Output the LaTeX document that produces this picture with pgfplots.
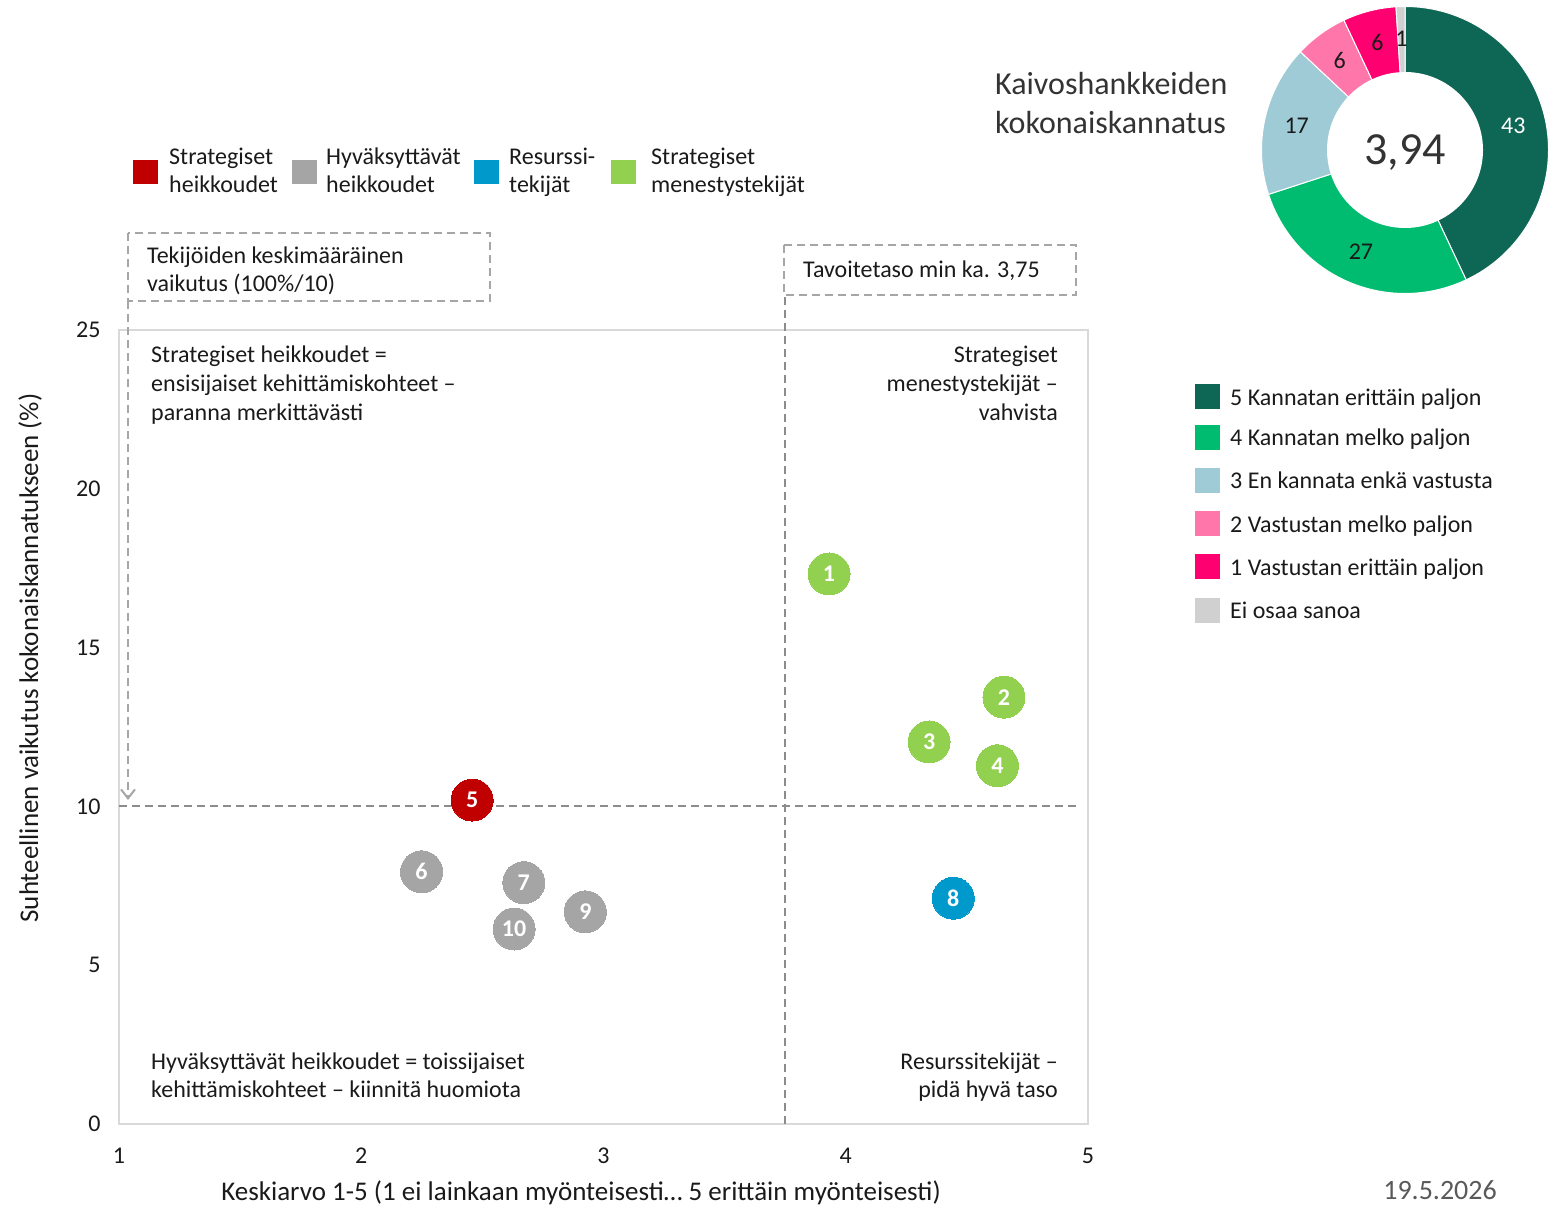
\documentclass[border=0pt]{standalone}
\usepackage{fontspec}
\setmainfont{Carlito}
\usepackage{pgfplots}
\pgfplotsset{compat=1.18}
\usepackage{pgfplotstable}
\usetikzlibrary{arrows.meta}

\definecolor{cRed}{HTML}{C00000}
\definecolor{cGray}{HTML}{A5A5A5}
\definecolor{cBlue}{HTML}{0099CC}
\definecolor{cGreen}{HTML}{92D050}
\definecolor{d5}{HTML}{0E6655}
\definecolor{d4}{HTML}{00BC70}
\definecolor{d3}{HTML}{9ECBD6}
\definecolor{d2}{HTML}{FF77AA}
\definecolor{d1}{HTML}{FF0070}
\definecolor{d0}{HTML}{D0D0D0}
\definecolor{axgray}{HTML}{D9D9D9}
\definecolor{dashgray}{HTML}{8C8C8C}
\definecolor{boxgray}{HTML}{A6A6A6}
\definecolor{txt}{HTML}{1A1A1A}
\definecolor{ttl}{HTML}{333333}
\definecolor{dategray}{HTML}{595959}

\newcommand\fs[2]{\fontsize{#1pt}{#2pt}\selectfont}

% Strategiset heikkoudet
\pgfplotstableread{
x     y     lab
2.458 10.20 5
}\sh
% Hyvaksyttavat heikkoudet
\pgfplotstableread{
x     y     lab
2.249 7.94  6
2.671 7.60  7
2.925 6.68  9
2.631 6.14  10
}\hw
% Resurssitekijat
\pgfplotstableread{
x     y     lab
4.444 7.11  8
}\rs
% Strategiset menestystekijat
\pgfplotstableread{
x     y     lab
3.931 17.32 1
4.653 13.44 2
4.344 12.03 3
4.626 11.28 4
}\sm

% donut slice: colour, cumulative start (%), value (%)
\newcommand\slice[3]{%
  \fill[#1, draw=white, line width=1pt] (axis cs:0,0) -- ++({90-3.6*#2}:143.5pt)
    arc[start angle={90-3.6*#2}, delta angle={-3.6*#3}, radius=143.5pt] -- cycle;}
\newcommand\slicelabel[4]{%
  \path (axis cs:0,0) ++({90-3.6*(#2+#3/2)}:111pt) node[inner sep=0pt, text=#4, font=\fs{24}{29}] {#3};}

\tikzset{
  lbl/.style={inner sep=0pt, text=txt, font=\fs{24}{29}},
  axlbl/.style={inner sep=0pt, text=txt, font=\fs{27}{32}},
  refdash/.style={draw=dashgray, line width=2pt, dash pattern=on 8pt off 5pt},
  boxdash/.style={draw=boxgray, line width=2pt, dash pattern=on 8pt off 5pt},
}
\pgfplotsset{
  bub/.style={only marks, color=#1, mark=*, mark size=21pt,
    mark options={draw=#1, fill=#1, line width=0pt},
    nodes near coords, point meta=explicit symbolic,
    every node near coord/.style={anchor=center, inner sep=0pt, text=white, font=\fs{24}{28}\bfseries}},
}

\begin{document}
\begin{tikzpicture}
\path[use as bounding box] (0pt,0pt) rectangle (1565pt,-1206pt);

\begin{axis}[
  at={(119pt,-1124pt)}, anchor=south west,
  scale only axis, width=969pt, height=794pt,
  xmin=1, xmax=5, ymin=0, ymax=25,
  xtick={1,2,3,4,5}, ytick={0,5,10,15,20,25},
  major tick length=0pt,
  axis line style={draw=axgray, line width=2pt},
  tick label style={font=\fs{24}{29}, text=txt},
  /pgf/number format/assume math mode=true,
  xticklabel style={anchor=center, yshift=-32pt},
  yticklabel style={anchor=east, xshift=-15pt},
  clip=false,
]
\draw[refdash] (axis cs:1,10) -- (axis cs:4.96,10);
\draw[refdash] (axis cs:3.75,0) -- (axis cs:3.75,26.1);
\addplot[bub=cRed]   table[x=x, y=y, meta=lab] {\sh};
\addplot[bub=cGray]  table[x=x, y=y, meta=lab] {\hw};
\addplot[bub=cBlue]  table[x=x, y=y, meta=lab] {\rs};
\addplot[bub=cGreen] table[x=x, y=y, meta=lab] {\sm};
\end{axis}

% axis labels
\node[axlbl, rotate=90] at (30pt,-658pt) {Suhteellinen vaikutus kokonaiskannatukseen (\%)};
\node[axlbl] at (581pt,-1193pt) {Keskiarvo 1-5 (1 ei lainkaan myönteisesti… 5 erittäin myönteisesti)};

% annotation boxes
\draw[boxdash] (128pt,-233pt) rectangle (490pt,-301pt);
\draw[boxdash, -{Straight Barb[length=9pt, width=14pt]}] (128pt,-301pt) -- (128pt,-800pt);
\node[lbl, anchor=base west] at (147pt,-263pt) {Tekijöiden keskimääräinen};
\node[lbl, anchor=base west] at (147pt,-291pt) {vaikutus (100\%/10)};
\draw[boxdash] (784pt,-245pt) rectangle (1076pt,-295pt);
\node[lbl, anchor=base west] at (803pt,-277pt) {Tavoitetaso min ka. 3,75};

% quadrant texts
\node[lbl, anchor=base west] at (151pt,-362pt) {Strategiset heikkoudet =};
\node[lbl, anchor=base west] at (151pt,-391pt) {ensisijaiset kehittämiskohteet –};
\node[lbl, anchor=base west] at (151pt,-420pt) {paranna merkittävästi};
\node[lbl, anchor=base east] at (1058pt,-362pt) {Strategiset};
\node[lbl, anchor=base east] at (1058pt,-391pt) {menestystekijät –};
\node[lbl, anchor=base east] at (1058pt,-420pt) {vahvista};
\node[lbl, anchor=base west] at (151pt,-1069pt) {Hyväksyttävät heikkoudet = toissijaiset};
\node[lbl, anchor=base west] at (151pt,-1097pt) {kehittämiskohteet – kiinnitä huomiota};
\node[lbl, anchor=base east] at (1058pt,-1069pt) {Resurssitekijät –};
\node[lbl, anchor=base east] at (1058pt,-1097pt) {pidä hyvä taso};

% top legend
\fill[cRed]   (133pt,-160pt) rectangle (158pt,-184pt);
\fill[cGray]  (292pt,-160pt) rectangle (317pt,-184pt);
\fill[cBlue]  (474pt,-160pt) rectangle (499pt,-184pt);
\fill[cGreen] (611pt,-160pt) rectangle (636pt,-184pt);
\node[lbl, anchor=base west] at (169pt,-165pt) {Strategiset};
\node[lbl, anchor=base west] at (169pt,-193pt) {heikkoudet};
\node[lbl, anchor=base west] at (326pt,-165pt) {Hyväksyttävät};
\node[lbl, anchor=base west] at (326pt,-193pt) {heikkoudet};
\node[lbl, anchor=base west] at (509pt,-165pt) {Resurssi-};
\node[lbl, anchor=base west] at (509pt,-193pt) {tekijät};
\node[lbl, anchor=base west] at (651pt,-165pt) {Strategiset};
\node[lbl, anchor=base west] at (651pt,-193pt) {menestystekijät};

% donut
\begin{axis}[
  at={(1405pt,-150pt)}, anchor=center,
  scale only axis, width=100pt, height=100pt,
  xmin=-1, xmax=1, ymin=-1, ymax=1,
  hide axis, clip=false,
]
\slice{d5}{0}{43}
\slice{d4}{43}{27}
\slice{d3}{70}{17}
\slice{d2}{87}{6}
\slice{d1}{93}{6}
\slice{d0}{99}{1}
\fill[white] (axis cs:0,0) circle[radius=78pt];
\slicelabel{d5}{0}{43}{white}
\slicelabel{d4}{43}{27}{txt}
\slicelabel{d3}{70}{17}{txt}
\slicelabel{d2}{87}{6}{txt}
\slicelabel{d1}{93}{6}{txt}
\slicelabel{d0}{99}{1}{txt}
\node[inner sep=0pt, text=ttl, font=\fs{46}{52}, yshift=-3pt] at (axis cs:0,0) {3,94};
\end{axis}

% donut title
\node[inner sep=0pt, anchor=base west, text=ttl, font=\fs{32}{39}] at (995pt,-95pt) {Kaivoshankkeiden};
\node[inner sep=0pt, anchor=base west, text=ttl, font=\fs{32}{39}] at (995pt,-134pt) {kokonaiskannatus};

% right legend
\fill[d5] (1195pt,-384pt) rectangle (1220pt,-409pt);
\fill[d4] (1195pt,-425pt) rectangle (1220pt,-450pt);
\fill[d3] (1195pt,-468pt) rectangle (1220pt,-493pt);
\fill[d2] (1195pt,-511pt) rectangle (1220pt,-536pt);
\fill[d1] (1195pt,-554pt) rectangle (1220pt,-579pt);
\fill[d0] (1195pt,-598pt) rectangle (1220pt,-623pt);
\node[lbl, anchor=base west] at (1230pt,-405pt) {5 Kannatan erittäin paljon};
\node[lbl, anchor=base west] at (1230pt,-445pt) {4 Kannatan melko paljon};
\node[lbl, anchor=base west] at (1230pt,-488pt) {3 En kannata enkä vastusta};
\node[lbl, anchor=base west] at (1230pt,-532pt) {2 Vastustan melko paljon};
\node[lbl, anchor=base west] at (1230pt,-575pt) {1 Vastustan erittäin paljon};
\node[lbl, anchor=base west] at (1230pt,-618pt) {Ei osaa sanoa};

% date
\node[inner sep=0pt, anchor=base east, text=dategray, font=\fs{28}{33}] at (1497pt,-1199pt) {19.5.2026};
\end{tikzpicture}
\end{document}
